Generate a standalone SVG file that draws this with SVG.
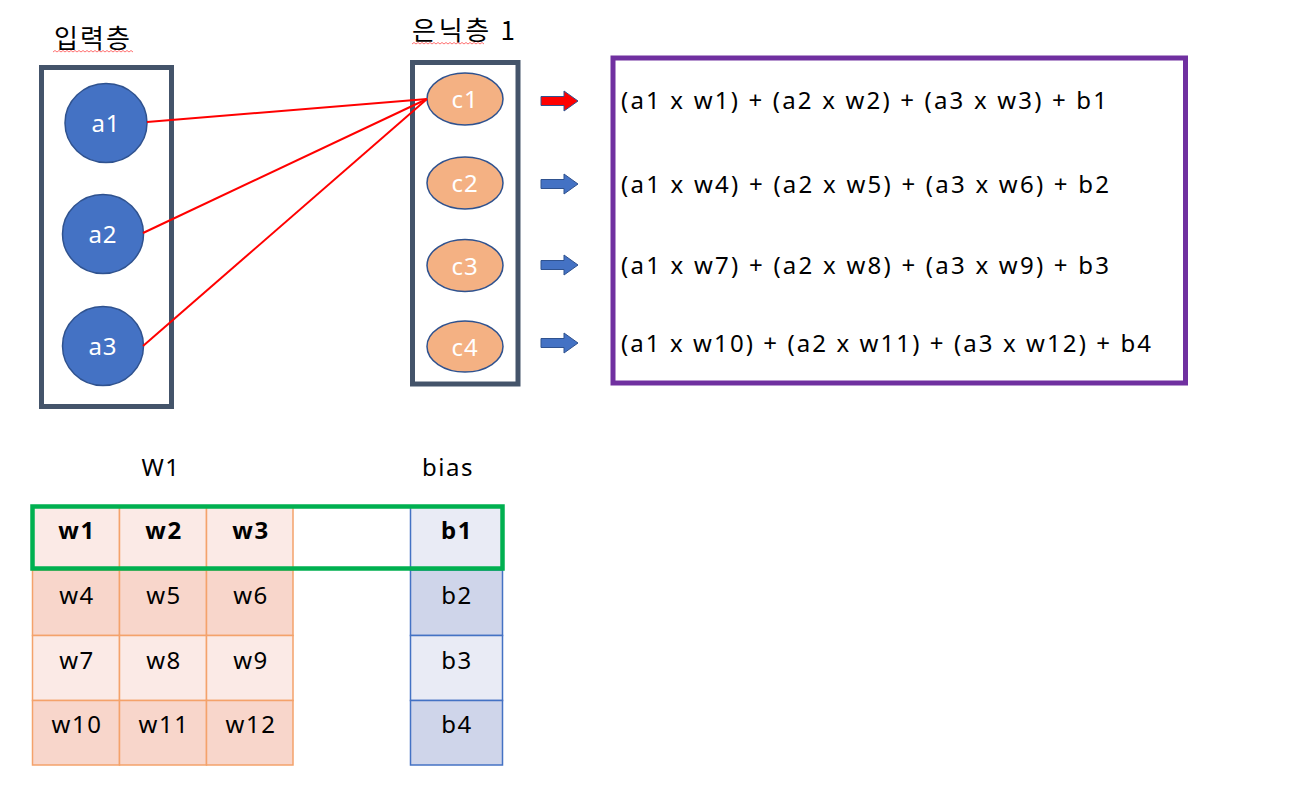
<svg xmlns="http://www.w3.org/2000/svg" width="1310" height="794" viewBox="0 0 1310 794">
<defs>
<style>
text{font-family:"Noto Sans","Open Sans","Noto Sans CJK KR",sans-serif;}
.kr{font-family:"Noto Sans CJK KR","Noto Sans",sans-serif;font-size:26px;fill:#000;}
.layer{fill:none;stroke:#44546A;stroke-width:5;}
.inp{fill:#4472C4;stroke:#2F528F;stroke-width:1.5;}
.hid{fill:#F4B183;stroke:#2F528F;stroke-width:1.5;}
.nl{font-size:24px;fill:#fff;text-anchor:middle;letter-spacing:1px;}
.conn{stroke:#FF0000;stroke-width:2;fill:none;}
.arr{stroke:#2F528F;stroke-width:1;}
.f{font-size:24px;fill:#000;}
.cell{stroke:#F4A26B;stroke-width:1.5;}
.wl{fill:#FBEAE6;}
.wd{fill:#F8D6CB;}
.bl{fill:#E9EBF5;}
.bd{fill:#CFD5EA;}
.bc{stroke:#4472C4;stroke-width:1.5;}
.t{font-size:24px;fill:#000;text-anchor:middle;letter-spacing:1.5px;}
.b{font-weight:bold;}
.sq{fill:none;stroke:#FF0000;stroke-width:0.8;opacity:0.7;}
</style>
</defs>
<rect width="1310" height="794" fill="#fff"/>

<g id="label-input">
<text class="kr" x="54" y="48" textLength="76" lengthAdjust="spacing">입력층</text>
<path class="sq" d="M53,52 l2,-1.5 l2,1.5 l2,-1.5 l2,1.5 l2,-1.5 l2,1.5 l2,-1.5 l2,1.5 l2,-1.5 l2,1.5 l2,-1.5 l2,1.5 l2,-1.5 l2,1.5 l2,-1.5 l2,1.5 l2,-1.5 l2,1.5 l2,-1.5 l2,1.5 l2,-1.5 l2,1.5 l2,-1.5 l2,1.5 l2,-1.5 l2,1.5 l2,-1.5 l2,1.5 l2,-1.5 l2,1.5 l2,-1.5 l2,1.5 l2,-1.5 l2,1.5 l2,-1.5 l2,1.5 l2,-1.5 l2,1.5 l2,-1.5 l2,1.5"/>
</g>
<g id="label-hidden">
<text class="kr" x="412" y="40" textLength="103" lengthAdjust="spacing">은닉층 1</text>
<path class="sq" d="M412,44 l2,-1.5 l2,1.5 l2,-1.5 l2,1.5 l2,-1.5 l2,1.5 l2,-1.5 l2,1.5 l2,-1.5 l2,1.5 l2,-1.5 l2,1.5 l2,-1.5 l2,1.5 l2,-1.5 l2,1.5 l2,-1.5 l2,1.5 l2,-1.5 l2,1.5 l2,-1.5 l2,1.5 l2,-1.5 l2,1.5 l2,-1.5 l2,1.5 l2,-1.5 l2,1.5 l2,-1.5 l2,1.5 l2,-1.5 l2,1.5 l2,-1.5 l2,1.5 l2,-1.5 l2,1.5"/>
</g>

<g id="input-layer">
<rect class="layer" x="41.5" y="67.5" width="130" height="339"/>
</g>
<g id="a1"><ellipse class="inp" cx="106" cy="123" rx="41" ry="39.5"/><text class="nl" x="106" y="132">a1</text></g>
<g id="a2"><ellipse class="inp" cx="103" cy="234" rx="40.5" ry="39.5"/><text class="nl" x="103" y="243">a2</text></g>
<g id="a3"><ellipse class="inp" cx="103" cy="346" rx="40.5" ry="39.5"/><text class="nl" x="103" y="355">a3</text></g>

<g id="hidden-layer">
<rect class="layer" x="412.5" y="62.5" width="105.5" height="321.5"/>
</g>
<g id="c1"><ellipse class="hid" cx="465" cy="99" rx="38" ry="26"/><text class="nl" x="465" y="108">c1</text></g>
<g id="c2"><ellipse class="hid" cx="465" cy="183" rx="38" ry="26"/><text class="nl" x="465" y="192">c2</text></g>
<g id="c3"><ellipse class="hid" cx="465" cy="265.5" rx="38" ry="26"/><text class="nl" x="465" y="274.5">c3</text></g>
<g id="c4"><ellipse class="hid" cx="465" cy="346.5" rx="38" ry="25.5"/><text class="nl" x="465" y="355.5">c4</text></g>

<g id="connectors">
<line class="conn" x1="147" y1="122" x2="427" y2="99"/>
<line class="conn" x1="143" y1="233" x2="427" y2="99"/>
<line class="conn" x1="143" y1="346" x2="427" y2="99"/>
<path class="arr" fill="#FF0000" d="M541,96.5 H564 V91 L578,101 L564,111 V105.5 H541 Z"/>
<path class="arr" fill="#4472C4" d="M541,179.5 H564 V174 L578,184 L564,194 V188.5 H541 Z"/>
<path class="arr" fill="#4472C4" d="M541,260.5 H564 V255 L578,265 L564,275 V269.5 H541 Z"/>
<path class="arr" fill="#4472C4" d="M541,338.5 H564 V333 L578,343 L564,353 V347.5 H541 Z"/>
</g>

<g id="formulas">
<rect x="613" y="58" width="572.5" height="325" fill="none" stroke="#7030A0" stroke-width="5"/>
<text class="f" x="621" y="109" textLength="486" lengthAdjust="spacing">(a1 x w1) + (a2 x w2) + (a3 x w3) + b1</text>
<text class="f" x="621" y="193" textLength="488" lengthAdjust="spacing">(a1 x w4) + (a2 x w5) + (a3 x w6) + b2</text>
<text class="f" x="621" y="274" textLength="488" lengthAdjust="spacing">(a1 x w7) + (a2 x w8) + (a3 x w9) + b3</text>
<text class="f" x="621" y="352" textLength="530" lengthAdjust="spacing">(a1 x w10) + (a2 x w11) + (a3 x w12) + b4</text>
</g>

<g id="w1-table">
<text class="t" x="161" y="476">W1</text>
<rect class="cell wl" x="32.5" y="506.5" width="87" height="63.5"/>
<rect class="cell wl" x="119.5" y="506.5" width="87" height="63.5"/>
<rect class="cell wl" x="206.5" y="506.5" width="86.5" height="63.5"/>
<rect class="cell wd" x="32.5" y="570" width="87" height="65.5"/>
<rect class="cell wd" x="119.5" y="570" width="87" height="65.5"/>
<rect class="cell wd" x="206.5" y="570" width="86.5" height="65.5"/>
<rect class="cell wl" x="32.5" y="635.5" width="87" height="65"/>
<rect class="cell wl" x="119.5" y="635.5" width="87" height="65"/>
<rect class="cell wl" x="206.5" y="635.5" width="86.5" height="65"/>
<rect class="cell wd" x="32.5" y="700.5" width="87" height="64.5"/>
<rect class="cell wd" x="119.5" y="700.5" width="87" height="64.5"/>
<rect class="cell wd" x="206.5" y="700.5" width="86.5" height="64.5"/>
<text class="t b" x="77" y="539">w1</text>
<text class="t b" x="164" y="539">w2</text>
<text class="t b" x="251" y="539">w3</text>
<text class="t" x="77" y="604">w4</text>
<text class="t" x="164" y="604">w5</text>
<text class="t" x="251" y="604">w6</text>
<text class="t" x="77" y="669">w7</text>
<text class="t" x="164" y="669">w8</text>
<text class="t" x="251" y="669">w9</text>
<text class="t" x="77" y="733">w10</text>
<text class="t" x="164" y="733">w11</text>
<text class="t" x="251" y="733">w12</text>
</g>

<g id="bias-table">
<text class="t" x="448" y="476">bias</text>
<rect class="bc bl" x="410.5" y="506.5" width="92" height="63.5"/>
<rect class="bc bd" x="410.5" y="570" width="92" height="65.5"/>
<rect class="bc bl" x="410.5" y="635.5" width="92" height="65"/>
<rect class="bc bd" x="410.5" y="700.5" width="92" height="64.5"/>
<text class="t b" x="457" y="539">b1</text>
<text class="t" x="457" y="604">b2</text>
<text class="t" x="457" y="669">b3</text>
<text class="t" x="457" y="733">b4</text>
</g>

<g id="highlight">
<rect x="32.5" y="506.5" width="470" height="62" fill="none" stroke="#00B050" stroke-width="4.5"/>
</g>
</svg>
